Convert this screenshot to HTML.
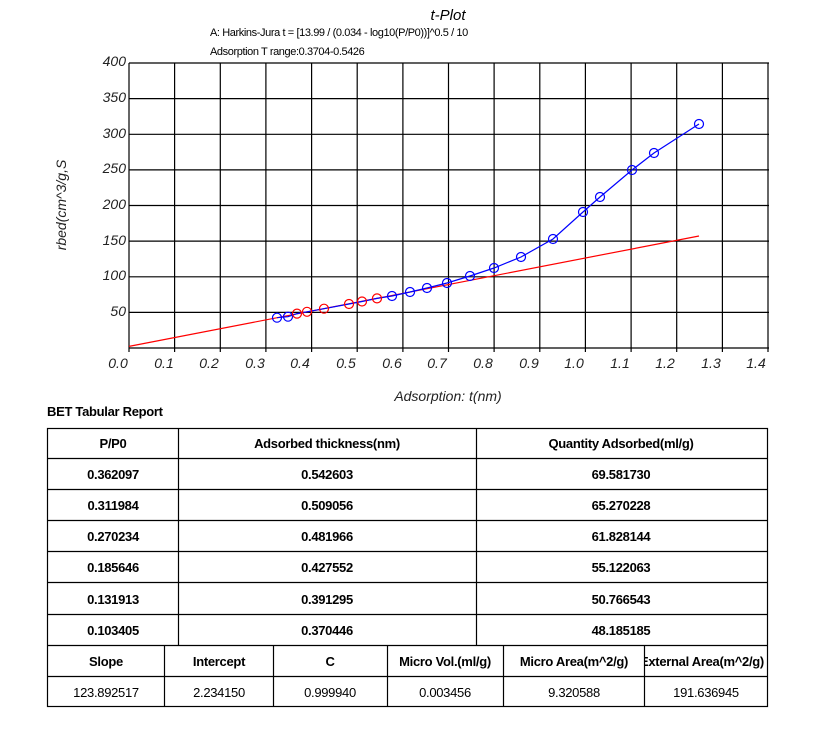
<!DOCTYPE html>
<html><head><meta charset="utf-8"><style>
html,body{margin:0;padding:0;background:#fff;}
svg{display:block;font-family:"Liberation Sans",Arial,sans-serif;}
</style></head><body>
<svg width="828" height="740" viewBox="0 0 828 740" xmlns="http://www.w3.org/2000/svg">
<rect width="828" height="740" fill="#fff"/>
<text x="448" y="20" font-size="15" font-style="italic" text-anchor="middle">t-Plot</text>
<text x="210" y="36" font-size="11" letter-spacing="-0.4">A: Harkins-Jura t = [13.99 / (0.034 - log10(P/P0))]^0.5 / 10</text>
<text x="210" y="55" font-size="11" letter-spacing="-0.4">Adsorption T range:0.3704-0.5426</text>
<g stroke="#000" stroke-width="1.2" fill="none">
<line x1="129" y1="63" x2="769" y2="63"/>
<line x1="129" y1="98.6" x2="769" y2="98.6"/>
<line x1="129" y1="134.3" x2="769" y2="134.3"/>
<line x1="129" y1="169.9" x2="769" y2="169.9"/>
<line x1="129" y1="205.5" x2="769" y2="205.5"/>
<line x1="129" y1="241.1" x2="769" y2="241.1"/>
<line x1="129" y1="276.8" x2="769" y2="276.8"/>
<line x1="129" y1="312.4" x2="769" y2="312.4"/>
<line x1="129" y1="348" x2="769" y2="348"/>
<line x1="129" y1="63" x2="129" y2="352"/>
<line x1="174.6" y1="63" x2="174.6" y2="352"/>
<line x1="220.3" y1="63" x2="220.3" y2="352"/>
<line x1="265.9" y1="63" x2="265.9" y2="352"/>
<line x1="311.6" y1="63" x2="311.6" y2="352"/>
<line x1="357.2" y1="63" x2="357.2" y2="352"/>
<line x1="402.9" y1="63" x2="402.9" y2="352"/>
<line x1="448.5" y1="63" x2="448.5" y2="352"/>
<line x1="494.1" y1="63" x2="494.1" y2="352"/>
<line x1="539.8" y1="63" x2="539.8" y2="352"/>
<line x1="585.4" y1="63" x2="585.4" y2="352"/>
<line x1="631.1" y1="63" x2="631.1" y2="352"/>
<line x1="676.7" y1="63" x2="676.7" y2="352"/>
<line x1="722.4" y1="63" x2="722.4" y2="352"/>
<line x1="768" y1="63" x2="768" y2="352"/>
</g>
<g font-size="14" font-style="italic" fill="#222" text-anchor="end">
<text x="126" y="66">400</text><text x="126" y="102">350</text><text x="126" y="138">300</text>
<text x="126" y="173">250</text><text x="126" y="209">200</text><text x="126" y="245">150</text>
<text x="126" y="280">100</text><text x="126" y="316">50</text>
</g>
<g font-size="14" font-style="italic" fill="#222" text-anchor="middle">
<text x="118" y="368">0.0</text><text x="164" y="368">0.1</text><text x="209" y="368">0.2</text>
<text x="255" y="368">0.3</text><text x="300" y="368">0.4</text><text x="346" y="368">0.5</text>
<text x="392" y="368">0.6</text><text x="437" y="368">0.7</text><text x="483" y="368">0.8</text>
<text x="529" y="368">0.9</text><text x="574" y="368">1.0</text><text x="620" y="368">1.1</text>
<text x="665" y="368">1.2</text><text x="711" y="368">1.3</text><text x="756" y="368">1.4</text>
</g>
<text x="448" y="401" font-size="14" font-style="italic" text-anchor="middle" fill="#222">Adsorption: t(nm)</text>
<text transform="translate(66,205) rotate(-90)" font-size="14" font-style="italic" text-anchor="middle" fill="#222">rbed(cm^3/g,S</text>
<line x1="129" y1="346.4" x2="699" y2="236" stroke="#f00" stroke-width="1.2"/>
<polyline fill="none" stroke="#00f" stroke-width="1.2" points="277,317.7 288,316.7 297,313.6 307,311.8 324,308.7 349,304 362,301.5 377,298.4 392,296 410,292 427,288 447,283 470,276 494,268 521,257 553,239 583,212 600,197 632,170 654,153 699,124"/>
<g fill="none" stroke="#00f" stroke-width="1.2">
<circle cx="277" cy="317.7" r="4.5"/><circle cx="288" cy="316.7" r="4.5"/>
<circle cx="392" cy="296" r="4.5"/><circle cx="410" cy="292" r="4.5"/><circle cx="427" cy="288" r="4.5"/>
<circle cx="447" cy="283" r="4.5"/><circle cx="470" cy="276" r="4.5"/><circle cx="494" cy="268" r="4.5"/>
<circle cx="521" cy="257" r="4.5"/><circle cx="553" cy="239" r="4.5"/><circle cx="583" cy="212" r="4.5"/>
<circle cx="600" cy="197" r="4.5"/><circle cx="632" cy="170" r="4.5"/><circle cx="654" cy="153" r="4.5"/>
<circle cx="699" cy="124" r="4.5"/>
</g>
<g fill="none" stroke="#f00" stroke-width="1.2">
<circle cx="297" cy="313.6" r="4.5"/><circle cx="307" cy="311.8" r="4.5"/><circle cx="324" cy="308.7" r="4.5"/>
<circle cx="349" cy="304" r="4.5"/><circle cx="362" cy="301.5" r="4.5"/><circle cx="377" cy="298.4" r="4.5"/>
</g>
<text x="47" y="416" font-size="13" font-weight="bold" letter-spacing="-0.3">BET Tabular Report</text>
<g stroke="#000" stroke-width="1.2" fill="none">
<rect x="47.5" y="428.5" width="720" height="278"/>
<line x1="47" y1="458.5" x2="767" y2="458.5"/>
<line x1="47" y1="489.5" x2="767" y2="489.5"/>
<line x1="47" y1="520.5" x2="767" y2="520.5"/>
<line x1="47" y1="551.5" x2="767" y2="551.5"/>
<line x1="47" y1="582.5" x2="767" y2="582.5"/>
<line x1="47" y1="614.5" x2="767" y2="614.5"/>
<line x1="47" y1="645.5" x2="767" y2="645.5"/>
<line x1="47" y1="676.5" x2="767" y2="676.5"/>
<line x1="178.5" y1="428" x2="178.5" y2="645"/>
<line x1="476.5" y1="428" x2="476.5" y2="645"/>
<line x1="164.5" y1="645" x2="164.5" y2="707"/>
<line x1="273.5" y1="645" x2="273.5" y2="707"/>
<line x1="387.5" y1="645" x2="387.5" y2="707"/>
<line x1="503.5" y1="645" x2="503.5" y2="707"/>
<line x1="644.5" y1="645" x2="644.5" y2="707"/>
</g>
<g font-size="13" font-weight="bold" text-anchor="middle" letter-spacing="-0.3">
<text x="113" y="448">P/P0</text><text x="327" y="448">Adsorbed thickness(nm)</text><text x="621" y="448">Quantity Adsorbed(ml/g)</text>
<text x="113" y="479">0.362097</text><text x="327" y="479">0.542603</text><text x="621" y="479">69.581730</text>
<text x="113" y="510">0.311984</text><text x="327" y="510">0.509056</text><text x="621" y="510">65.270228</text>
<text x="113" y="541">0.270234</text><text x="327" y="541">0.481966</text><text x="621" y="541">61.828144</text>
<text x="113" y="572">0.185646</text><text x="327" y="572">0.427552</text><text x="621" y="572">55.122063</text>
<text x="113" y="604">0.131913</text><text x="327" y="604">0.391295</text><text x="621" y="604">50.766543</text>
<text x="113" y="635">0.103405</text><text x="327" y="635">0.370446</text><text x="621" y="635">48.185185</text>
<text x="106" y="666">Slope</text><text x="219" y="666">Intercept</text><text x="330" y="666">C</text>
<text x="445" y="666">Micro Vol.(ml/g)</text><text x="574" y="666">Micro Area(m^2/g)</text>
</g>
<svg x="645" y="646" width="122" height="30"><text x="-5" y="20" font-size="13" font-weight="bold" letter-spacing="-0.3">External Area(m^2/g)</text></svg>
<g font-size="13" text-anchor="middle" letter-spacing="-0.3">
<text x="106" y="697">123.892517</text><text x="219" y="697">2.234150</text><text x="330" y="697">0.999940</text>
<text x="445" y="697">0.003456</text><text x="574" y="697">9.320588</text><text x="706" y="697">191.636945</text>
</g>
</svg>
</body></html>
